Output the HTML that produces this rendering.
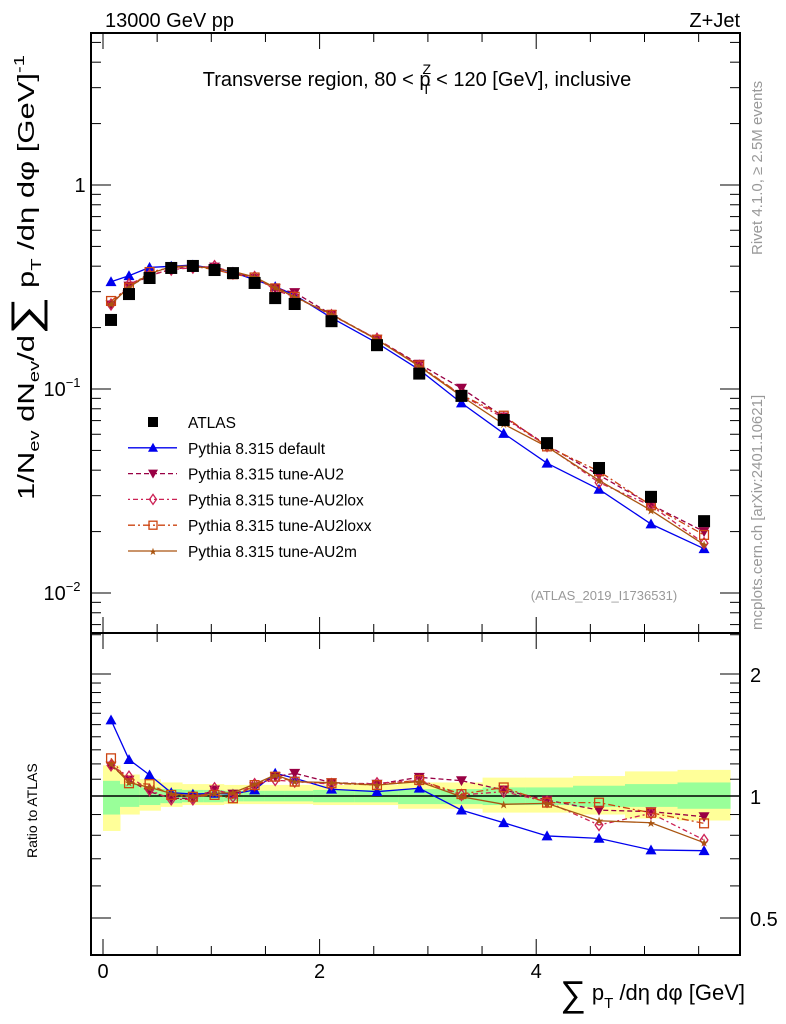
<!DOCTYPE html>
<html><head><meta charset="utf-8"><style>
body{margin:0;background:#fff}
svg{display:block;font-family:"Liberation Sans",sans-serif}
</style></head><body>
<svg id="s" width="786" height="1024" viewBox="0 0 786 1024" xmlns="http://www.w3.org/2000/svg">
<text x="105" y="27" font-size="20">13000 GeV pp</text>
<text x="740" y="27" font-size="20" text-anchor="end">Z+Jet</text>
<text x="417" y="86" font-size="20" text-anchor="middle">Transverse region, 80 &lt; p<tspan font-size="14" dy="-12" dx="-8">Z</tspan><tspan font-size="14" dy="20" dx="-9">T</tspan><tspan dy="-8"> &lt; 120 [GeV], inclusive</tspan></text>
<text x="604" y="600" font-size="13" fill="#999" text-anchor="middle">(ATLAS_2019_I1736531)</text>
<text transform="translate(762,255) rotate(-90)" font-size="15" fill="#999">Rivet 4.1.0, ≥ 2.5M events</text>
<text transform="translate(762,630) rotate(-90)" font-size="15" fill="#999">mcplots.cern.ch [arXiv:2401.10621]</text>
<text transform="translate(34,500) rotate(-90)" font-size="23" textLength="445" lengthAdjust="spacingAndGlyphs">1/N<tspan font-size="15" dy="5">ev</tspan><tspan dy="-5"> dN</tspan><tspan font-size="15" dy="5">ev</tspan><tspan dy="-5">/d</tspan><tspan font-size="40" dy="5">∑</tspan><tspan dy="-5"> p</tspan><tspan font-size="15" dy="7">T</tspan><tspan dy="-7"> /dη dφ  [GeV]</tspan><tspan font-size="15" dy="-10">-1</tspan></text>
<text transform="translate(37,858) rotate(-90)" font-size="14">Ratio to ATLAS</text>
<text x="745" y="1000" font-size="22" text-anchor="end"><tspan font-size="36" dy="6">∑</tspan><tspan dy="-6"> p</tspan><tspan font-size="15" dy="8">T</tspan><tspan dy="-8"> /dη dφ [GeV]</tspan></text>
<g id="g"></g>
</svg>
<script>
const xs=[0.074,0.24,0.43,0.63,0.83,1.03,1.20,1.40,1.59,1.77,2.11,2.53,2.92,3.31,3.70,4.10,4.58,5.06,5.55];
const atlas=[0.218,0.292,0.350,0.392,0.401,0.383,0.37,0.331,0.279,0.261,0.215,0.164,0.119,0.0925,0.0705,0.0543,0.041,0.0296,0.0225];
const rDefault=[1.54,1.23,1.127,1.019,1.011,1.015,1.011,1.035,1.138,1.106,1.039,1.025,1.045,0.923,0.859,0.797,0.786,0.736,0.733];
const rAU2=[1.186,1.095,1.025,0.987,0.987,1.035,1.011,1.054,1.116,1.138,1.079,1.070,1.112,1.091,1.035,0.977,0.923,0.915,0.889];
const rAU2lox=[1.19,1.116,1.035,0.981,0.981,1.045,0.996,1.070,1.095,1.085,1.070,1.075,1.091,1.006,1.025,0.968,0.848,0.906,0.779];
const rAU2loxx=[1.239,1.075,1.070,1.006,0.996,1.006,0.987,1.064,1.116,1.085,1.075,1.064,1.095,1.011,1.05,0.963,0.963,0.909,0.856];
const rAU2m=[1.199,1.079,1.05,1.015,1.0,1.015,1.019,1.07,1.127,1.085,1.079,1.064,1.085,0.996,0.954,0.959,0.869,0.859,0.767];
const yellowUp=[1.19,1.13,1.10,1.08,1.07,1.07,1.065,1.065,1.065,1.065,1.065,1.065,1.08,1.08,1.11,1.11,1.12,1.15,1.16];
const yellowLo=[0.82,0.90,0.92,0.94,0.95,0.95,0.955,0.955,0.955,0.955,0.95,0.95,0.93,0.93,0.91,0.91,0.90,0.88,0.87];
const greenUp=[1.09,1.07,1.05,1.04,1.035,1.035,1.03,1.03,1.03,1.03,1.035,1.035,1.04,1.04,1.05,1.05,1.06,1.07,1.08];
const greenLo=[0.90,0.94,0.95,0.96,0.965,0.965,0.97,0.97,0.97,0.97,0.965,0.965,0.955,0.955,0.95,0.95,0.94,0.94,0.93];
const xTicks=[0,2,4];
const ratioTicks=[0.5,1,2];

const L=91,R=740,T=33,MB=633,RB=955;
const X=v=>103+v*108.3;
const Y=v=>185-204*Math.log10(v);
const RY=v=>796-122*Math.log2(v);
const NS="http://www.w3.org/2000/svg",g=document.getElementById('g');
function el(t,a,p){const e=document.createElementNS(NS,t);for(const k in a)e.setAttribute(k,a[k]);(p||g).appendChild(e);return e;}

const edges=[0];for(let i=0;i<xs.length-1;i++)edges.push((xs[i]+xs[i+1])/2);edges.push(5.79);
for(let i=0;i<xs.length;i++){
 let b=el('rect',{x:X(edges[i]),y:RY(yellowUp[i]),width:X(edges[i+1])-X(edges[i])+0.5,height:RY(yellowLo[i])-RY(yellowUp[i]),fill:'#ffff99'});
 
 
 let c=el('rect',{x:X(edges[i]),y:RY(greenUp[i]),width:X(edges[i+1])-X(edges[i])+0.5,height:RY(greenLo[i])-RY(greenUp[i]),fill:'#99ff99'});
 
 
}
el('line',{x1:L,x2:R,y1:RY(1),y2:RY(1),stroke:'#000','stroke-width':1.5});

const series=[
 {n:'default',r:rDefault,c:'#0000ee',d:'',m:'tri'},
 {n:'au2',r:rAU2,c:'#990044',d:'5,3',m:'tridown'},
 {n:'au2lox',r:rAU2lox,c:'#cc2255',d:'2,3,5,3',m:'diamond'},
 {n:'au2loxx',r:rAU2loxx,c:'#cc4411',d:'7,3,2,3',m:'square'},
 {n:'au2m',r:rAU2m,c:'#aa5511',d:'',m:'star'}];
function marker(type,x,y,c,s,name){
 let e;
 if(type==='tri')e=el('path',{d:`M${x} ${y-s}L${x+s} ${y+s*0.8}L${x-s} ${y+s*0.8}Z`,fill:c});
 else if(type==='tridown')e=el('path',{d:`M${x} ${y+s}L${x+s} ${y-s*0.8}L${x-s} ${y-s*0.8}Z`,fill:c});
 else if(type==='diamond')e=el('path',{d:`M${x} ${y-s}L${x+s*0.7} ${y}L${x} ${y+s}L${x-s*0.7} ${y}Z`,fill:'none',stroke:c,'stroke-width':1.3});
 else if(type==='square')e=el('rect',{x:x-s*0.8,y:y-s*0.8,width:s*1.6,height:s*1.6,fill:'none',stroke:c,'stroke-width':1.3});
 else if(type==='star')e=el('text',{x:x,y:y+4,'font-size':s*2,'text-anchor':'middle',fill:c});
 else e=el('rect',{x:x-s,y:y-s,width:2*s,height:2*s,fill:c});
 if(type==='star')e.textContent='★';
 
 
}
series.forEach(s=>{
 const pts=xs.map((x,i)=>X(x)+','+Y(atlas[i]*s.r[i])).join(' ');
 const l=el('polyline',{points:pts,fill:'none',stroke:s.c,'stroke-width':1.3,'stroke-dasharray':s.d});
 
 
 xs.forEach((x,i)=>marker(s.m,X(x),Y(atlas[i]*s.r[i]),s.c,5.5,'point-'+s.n));
 const rl=el('polyline',{points:xs.map((x,i)=>X(x)+','+RY(s.r[i])).join(' '),fill:'none',stroke:s.c,'stroke-width':1.3,'stroke-dasharray':s.d});
 
 
 xs.forEach((x,i)=>marker(s.m,X(x),RY(s.r[i]),s.c,5.5,'ratio-point-'+s.n));
});
xs.forEach((x,i)=>marker('sq',X(x),Y(atlas[i]),'#000',6,'atlas-point'));

el('rect',{x:L,y:T,width:R-L,height:MB-T,fill:'none',stroke:'#000','stroke-width':2});
el('rect',{x:L,y:MB,width:R-L,height:RB-MB,fill:'none',stroke:'#000','stroke-width':2});
for(let k=0;k<=11;k++){const v=k*0.5;const maj=k%4===0;const len=maj?16:9;
 [[T,1],[MB,-1],[MB,1],[RB,-1]].forEach(([y,d])=>el('line',{x1:X(v),x2:X(v),y1:y,y2:y+d*len,stroke:'#000','stroke-width':1}));}
xTicks.forEach(v=>{const t=el('text',{x:X(v),y:978,'font-size':20,'text-anchor':'middle'});t.textContent=v;
 
 });
for(let dec=-3;dec<=0;dec++)for(let m=1;m<=9;m++){const v=m*Math.pow(10,dec);const y=Y(v);if(y<T||y>MB)continue;
 const len=m===1?20:10;el('line',{x1:L,x2:L+len,y1:y,y2:y,stroke:'#000'});el('line',{x1:R,x2:R-len,y1:y,y2:y,stroke:'#000'});}
const yl=[[1,'1'],[0.1,'10'],[0.01,'10']];
yl.forEach(([v,s],i)=>{const t=el('text',{x:i?62:80,y:Y(v)+7,'font-size':20,'text-anchor':'middle'});t.textContent=s;
 if(i){const sp=el('tspan',{'font-size':13,dy:-9},t);sp.textContent=i===1?'−1':'−2';}
 
 });
const rt=[0.4,0.5,0.6,0.7,0.8,0.9,1,1.1,1.2,1.3,1.4,1.5,1.6,1.7,1.8,1.9,2,2.5];
rt.forEach(v=>{const y=RY(v);if(y<MB||y>RB)return;
 const maj=[0.5,1,2].some(m=>Math.abs(m-v)<1e-6);const len=maj?20:10;
 el('line',{x1:L,x2:L+len,y1:y,y2:y,stroke:'#000'});el('line',{x1:R,x2:R-len,y1:y,y2:y,stroke:'#000'});});
ratioTicks.forEach(v=>{const t=el('text',{x:750,y:RY(v)+8,'font-size':20});t.textContent=v;
 
 });

const leg=[['ATLAS',null],['Pythia 8.315 default',0],['Pythia 8.315 tune-AU2',1],['Pythia 8.315 tune-AU2lox',2],['Pythia 8.315 tune-AU2loxx',3],['Pythia 8.315 tune-AU2m',4]];
leg.forEach(([txt,si],i)=>{const y=422+i*25.8;
 if(si===null)marker('sq',153,y,'#000',5,'legend-marker');
 else{const s=series[si];const l=el('line',{x1:128,x2:177,y1:y,y2:y,stroke:s.c,'stroke-width':1.3,'stroke-dasharray':s.d});
  
  
  marker(s.m,153,y,s.c,5,'legend-marker');}
 const t=el('text',{x:188,y:y+6,'font-size':15.5});t.textContent=txt;
 
 });
</script>
</body></html>
